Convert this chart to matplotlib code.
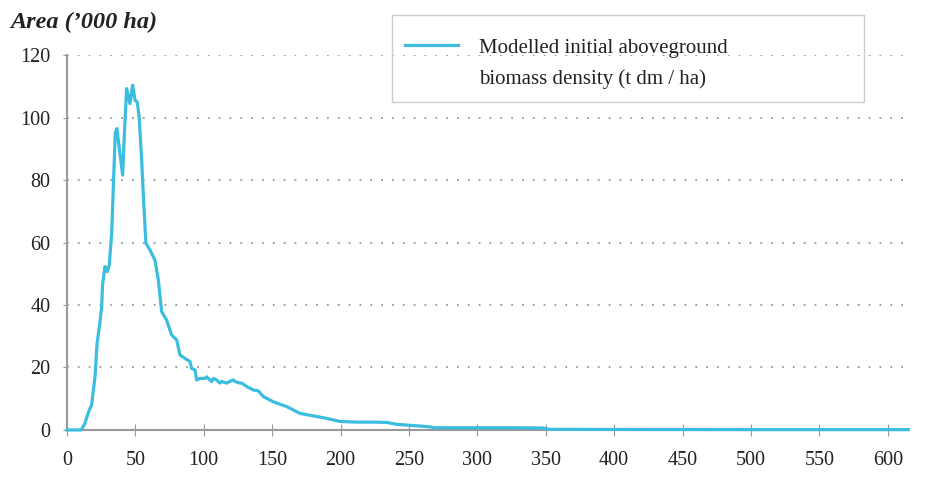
import matplotlib
matplotlib.use("Agg")
import matplotlib.pyplot as plt
from matplotlib.lines import Line2D
from matplotlib.patches import Rectangle

# biomass density (t dm / ha) vs area ('000 ha)
density = [0, 10.5, 13, 16, 18, 20.5, 22, 24, 25.4, 26, 27.8, 29.5, 30.9, 32.7,
           33.9, 35.3, 36.5, 38, 40.7, 42, 43.6, 46, 48, 49.7, 51.4, 52.8, 54.6,
           56, 57.7, 60.7, 64.3, 66.8, 69.2, 72.8, 76.5, 80.2, 82.6, 86.3, 89.9,
           91.1, 93.6, 94.8, 97.2, 100.9, 102, 105.8, 107, 109.4, 111.8, 113,
           116.7, 119, 121.6, 122.8, 126.5, 127.7, 131.4, 136.2, 139.9, 143.5,
           150.8, 160.5, 170.3, 180, 189.8, 199.6, 211.8, 224, 233.8, 241, 253,
           265.4, 268, 300, 330, 348, 352, 400, 500, 615]
area = [0, 0, 2, 6, 8, 17, 27.7, 34, 39.5, 46.4, 52.3, 50.7, 52.8, 63,
        78, 95, 96.5, 91, 81.6, 95, 109.3, 104.5, 110.4, 105.6, 105, 100, 86.4,
        73.6, 59.8, 57.6, 54.4, 48, 37.9, 35.2, 30.4, 28.8, 24, 22.9, 21.9,
        19.7, 19.2, 16, 16.5, 16.5, 17, 15.5, 16.5, 16, 15, 15.5,
        15, 15.5, 16, 15.5, 15, 15, 13.9, 12.8, 12.5, 10.7,
        9, 7.5, 5.3, 4.5, 3.7, 2.7, 2.5, 2.5, 2.4, 1.8, 1.4,
        1.0, 0.7, 0.7, 0.7, 0.6, 0.2, 0.15, 0.1, 0.1]

x_ticks = list(range(0, 601, 50))
y_ticks = list(range(0, 121, 20))
series_label = ["Modelled initial aboveground", "biomass density (t dm / ha)"]

line_color = "#3bbde0"
plt.rcParams["font.family"] = ["Liberation Serif", "DejaVu Serif"]

fig = plt.figure(figsize=(9.25, 4.88), dpi=100)
ax = fig.add_axes([0.0724, 0.119, 0.9095, 0.768])

ln, = ax.plot(density, area, color=line_color, lw=2.3, clip_on=False,
              solid_joinstyle="round", zorder=3)

ax.set_xlim(0, 615)
ax.set_ylim(0, 120)
ax.set_xticks(x_ticks)
ax.set_yticks(y_ticks)
ax.tick_params(axis="x", direction="inout", length=8, color="#999999",
               labelsize=14.5, labelcolor="#222222", pad=11.5)
ax.tick_params(axis="y", direction="out", length=3, color="#999999",
               labelsize=14.5, labelcolor="#222222", pad=9)

for s in ["top", "right"]:
    ax.spines[s].set_visible(False)
for s in ["left", "bottom"]:
    ax.spines[s].set_color("#999999")
    ax.spines[s].set_linewidth(1.5)

for v in y_ticks[1:]:
    ax.axhline(v, color="#9a9a9a", lw=1.3, ls=(0, (1, 5)), zorder=1)

fig.text(0.011, 0.953, "Area (\u2019000 ha)", fontsize=17.5, fontweight="bold",
         fontstyle="italic", color="#222222", va="center", ha="left")

# legend frame
fig.add_artist(Rectangle((392 / 925, 1 - 102 / 488), 472 / 925, 87 / 488,
                         transform=fig.transFigure, fill=False,
                         edgecolor="#cccccc", lw=1.0))
blank = Line2D([], [], alpha=0)
leg = ax.legend([ln, blank], series_label, loc="upper left",
                bbox_to_anchor=(405 / 925, 1 - 38 / 488),
                bbox_transform=fig.transFigure, frameon=False,
                fontsize=15, handlelength=2.55, handletextpad=1.0,
                labelspacing=0.55, borderpad=0, borderaxespad=0)
for t in leg.get_texts():
    t.set_color("#222222")

fig.savefig("out.png", dpi=100)
